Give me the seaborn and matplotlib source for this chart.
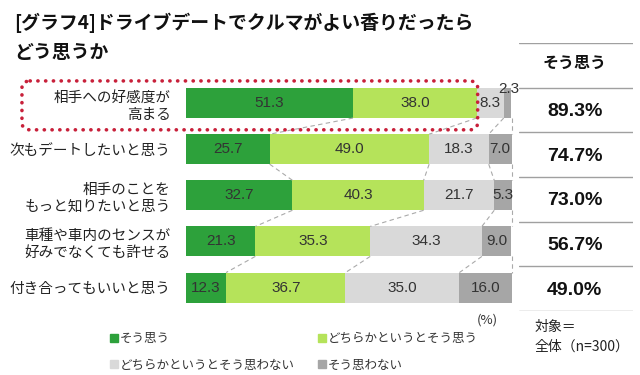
import numpy as np
import pandas as pd
import matplotlib
matplotlib.use("Agg")
import matplotlib.pyplot as plt
import seaborn as sns
from matplotlib.patches import FancyBboxPatch
from matplotlib.lines import Line2D

# ---------------- data ----------------
categories = ["相手への好感度が\n高まる", "次もデートしたいと思う", "相手のことを\nもっと知りたいと思う",
              "車種や車内のセンスが\n好みでなくても許せる", "付き合ってもいいと思う"]
series_names = ["そう思う", "どちらかというとそう思う", "どちらかというとそう思わない", "そう思わない"]
agree = [51.3, 25.7, 32.7, 21.3, 12.3]
somewhat_agree = [38.0, 49.0, 40.3, 35.3, 36.7]
somewhat_disagree = [8.3, 18.3, 21.7, 34.3, 35.0]
disagree = [2.3, 7.0, 5.3, 9.0, 16.0]
agree_total = [89.3, 74.7, 73.0, 56.7, 49.0]

title = "[グラフ4]ドライブデートでクルマがよい香りだったら\nどう思うか"
colors = ["#2da13b", "#b5e35a", "#d9d9d9", "#a6a6a6"]

# ---------------- style ----------------
sns.set_theme(style="white")
plt.rcParams["font.family"] = ["Noto Sans CJK JP", "DejaVu Sans"]

fig = plt.figure(figsize=(6.4, 3.75), dpi=100)
fig.patch.set_facecolor("white")

W, H = 640, 375
ax = fig.add_axes([186 / W, 1 - 310.6 / H, 325.5 / W, 230.6 / H])

series = [agree, somewhat_agree, somewhat_disagree, disagree]
cum = np.cumsum(np.array(series), axis=0)  # shape (4, 5)
df = pd.DataFrame({"item": categories})
for k in range(4):
    df[f"c{k}"] = cum[k]

bar_h = 0.65
for k in range(3, -1, -1):
    sns.barplot(data=df, x=f"c{k}", y="item", orient="h", color=colors[k],
                saturation=1, width=bar_h, linewidth=0, ax=ax, order=categories)

ax.set_xlim(0, 100)
ax.set_ylim(4.5, -0.5)
for s in ax.spines.values():
    s.set_visible(False)
ax.set_xlabel("")
ax.set_ylabel("")
ax.set_xticks([])
ax.set_yticks(range(len(categories)))
ax.set_yticklabels(categories, fontsize=10.5, color="#222222", linespacing=1.3)
ax.tick_params(axis="y", length=0, pad=11)

# value labels
for k in range(4):
    for i in range(len(categories)):
        v = series[k][i]
        start = cum[k][i] - v
        if v < 3:
            ax.text(start + v / 2 + 0.3, i - 0.31, f"{v:.1f}", ha="center", va="center",
                    fontsize=11, family="Liberation Sans", color="#333333", clip_on=False)
        else:
            ax.text(start + v / 2, i, f"{v:.1f}", ha="center", va="center",
                    fontsize=11, family="Liberation Sans", color="#333333")

# connector dashed lines
for i in range(len(categories) - 1):
    for k in range(4):
        x0 = cum[k][i] if k < 3 else 100
        x1 = cum[k][i + 1] if k < 3 else 100
        ax.plot([x0, x1], [i + bar_h / 2, i + 1 - bar_h / 2], color="#aaaaaa",
                lw=0.8, ls=(0, (4, 3)), clip_on=False, zorder=1)

# dotted highlight around first row
box = FancyBboxPatch((-50.4, -0.48), 140.0, 1.06,
                     boxstyle="round,pad=0,rounding_size=2.5",
                     transform=ax.transData, fill=False, edgecolor="#c8203a",
                     lw=2.6, ls=(0, (0.05, 2.1)), capstyle="round", clip_on=False, zorder=5,
                     mutation_aspect=0.06)
ax.add_patch(box)

# ---------------- right table ----------------
tax = fig.add_axes([519 / W, 1 - 311 / H, 114 / W, 268 / H])
tax.set_xlim(0, 1)
tax.set_ylim(4.5, -1.5)
tax.axis("off")
for yy in np.arange(-1.5, 5.0, 1.0):
    tax.axhline(yy, color="#a0a0a0", lw=1.0)
tax.text(0.49, -1.05, "そう思う", ha="center", va="center", fontsize=11.5,
         fontweight="bold", color="#111111")
for i, t in enumerate(agree_total):
    tax.text(0.49, i + 0.03, f"{t:.1f}%", ha="center", va="center", fontsize=14,
             fontweight="bold", family="Liberation Sans", color="#111111")

# ---------------- title ----------------
fig.text(14 / W, 1 - 13 / H, title, ha="left", va="top", fontsize=13.6,
         fontweight="bold", color="#111111", linespacing=1.65)

# ---------------- legend ----------------
handles = [Line2D([], [], marker="s", ls="none", markersize=5.5, color=c) for c in colors]
order = [0, 2, 1, 3]
leg = fig.legend([handles[j] for j in order], [series_names[j] for j in order],
                 ncol=2, loc="upper left", bbox_to_anchor=(110 / W, 1 - 332 / H),
                 frameon=False, fontsize=9, handlelength=0.6, handletextpad=0.15,
                 columnspacing=1.9, labelspacing=1.1, borderaxespad=0, borderpad=0)
for t in leg.get_texts():
    t.set_color("#333333")

fig.text(487 / W, 1 - 320 / H, "(%)", ha="center", va="center", fontsize=9.5, color="#333333")
fig.text(535 / W, 1 - 320 / H, "対象＝\n全体（n=300）", ha="left", va="top", fontsize=10,
         color="#222222", linespacing=1.5)

fig.savefig("out.png", dpi=100, facecolor="white")
